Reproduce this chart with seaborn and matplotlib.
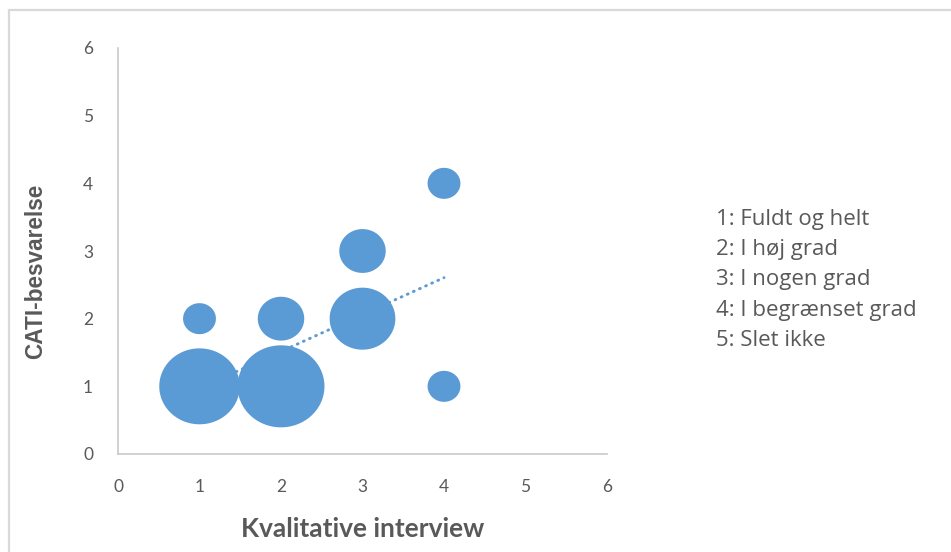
import numpy as np
import pandas as pd
import matplotlib
matplotlib.use("Agg")
import matplotlib.pyplot as plt
from matplotlib.path import Path
from matplotlib.patches import Rectangle
import seaborn as sns

# Answer pairs (qualitative interview score, CATI score) and number of respondents
interview_score = [1, 2, 3, 2, 3, 1, 4, 4]
cati_score = [1, 1, 2, 2, 3, 2, 4, 1]
respondents = [6, 7, 4, 2, 2, 1, 1, 1]

scale_labels = [
    "1: Fuldt og helt",
    "2: I høj grad",
    "3: I nogen grad",
    "4: I begrænset grad",
    "5: Slet ikke",
]
tick_values = [0, 1, 2, 3, 4, 5, 6]

BLUE = "#5B9BD5"
GREY_TEXT = "#595959"
GREY_LINE = "#C9C9C9"

sns.set_theme(style="white")
plt.rcParams["font.family"] = ["Lato", "DejaVu Sans"]

df = pd.DataFrame({"x": interview_score, "y": cati_score, "n": respondents})
# One row per respondent for the regression line
raw = pd.DataFrame({
    "x": np.repeat(interview_score, respondents),
    "y": np.repeat(cati_score, respondents),
})

fig = plt.figure(figsize=(9.51, 5.52), dpi=100)
ax = fig.add_axes([118 / 951, 1 - 454 / 552, (607 - 118) / 951, (454 - 48) / 552])

# Slightly wide ellipse marker for the bubbles
t = np.linspace(0, 2 * np.pi, 121)
ellipse = Path(np.column_stack([1.06 * np.cos(t), np.sin(t)]), closed=True)

sns.regplot(data=raw, x="x", y="y", ax=ax, scatter=False, ci=None,
            line_kws=dict(color=BLUE, lw=2.1, ls=(0, (0.3, 2.0)),
                          dash_capstyle="round", zorder=2))

unit = 560
sns.scatterplot(data=df, x="x", y="y", size="n",
                sizes=(unit * min(respondents), unit * max(respondents)),
                color=BLUE, marker=ellipse, linewidth=0, alpha=1,
                legend=False, ax=ax, zorder=3)

ax.set_xlim(0, 6)
ax.set_ylim(0, 6)
ax.set_xticks(tick_values)
ax.set_yticks(tick_values)
ax.tick_params(length=0, labelsize=12.5, labelcolor=GREY_TEXT)
ax.tick_params(axis="x", pad=18)
ax.tick_params(axis="y", pad=18)
for side in ("top", "right"):
    ax.spines[side].set_visible(False)
for side in ("left", "bottom"):
    ax.spines[side].set_color(GREY_LINE)
    ax.spines[side].set_linewidth(1.2)

ax.set_xlabel("Kvalitative interview", fontsize=19, fontweight="bold", color=GREY_TEXT)
ax.set_ylabel("CATI-besvarelse", fontsize=16.3, fontweight="bold", color=GREY_TEXT,
              family=["Liberation Sans", "DejaVu Sans"])
ax.xaxis.set_label_coords((363 - 118) / (607 - 118), -(517 - 454) / (454 - 48))
ax.yaxis.set_label_coords(-(118 - 47) / (607 - 118), (454 - 271) / (454 - 48))

# Scale explanation to the right of the plot
for i, label in enumerate(scale_labels):
    fig.text(716 / 951, 1 - (219 + i * 30.5) / 552, label, fontsize=16,
             color=GREY_TEXT, va="center", ha="left",
             family=["Open Sans", "DejaVu Sans"])

# Chart frame
fig.add_artist(Rectangle((9 / 951, -0.2), 1.2, 1.2 - 10 / 552, transform=fig.transFigure,
                         fill=False, edgecolor="#D9D9D9", lw=1.6))

fig.savefig("out.png", dpi=100)
